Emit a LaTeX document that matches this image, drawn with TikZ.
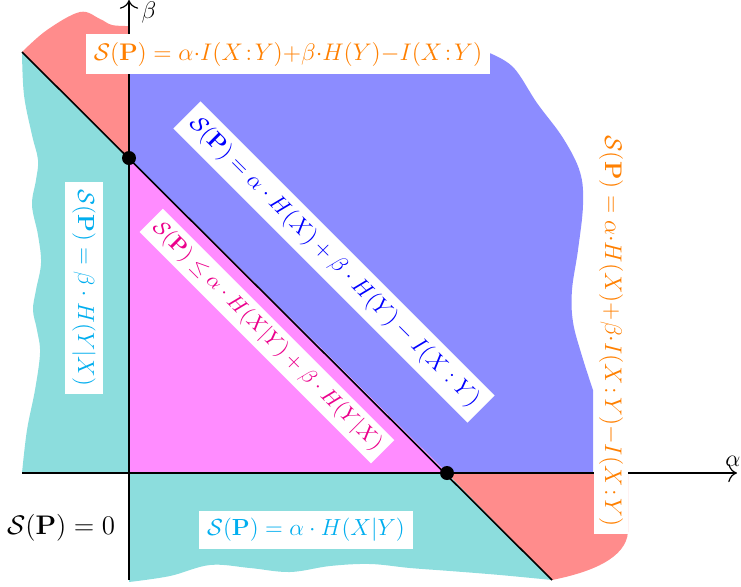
\documentclass[tikz,border=0pt]{standalone}
\usetikzlibrary{arrows.meta}
\definecolor{cR}{RGB}{255,140,140}
\definecolor{cB}{RGB}{140,140,255}
\definecolor{cM}{RGB}{255,140,255}
\definecolor{cT}{RGB}{140,221,221}
\definecolor{tOr}{RGB}{255,128,0}
\definecolor{tCy}{RGB}{0,174,239}
\definecolor{tMa}{RGB}{236,0,140}
\definecolor{tBl}{RGB}{0,0,255}
\newcommand{\cln}{\mkern2mu{:}\mkern2mu}
\begin{document}
\begin{tikzpicture}[x=0.5pt,y=-0.5pt,
  lbl/.style={fill=white, inner sep=4pt, font=\fontsize{12}{14}\selectfont},
  dot/.style={circle, fill=black, inner sep=0pt, minimum size=7pt},
  axis/.style={line width=0.6pt, -{To[scale=1.5]}},
  diag/.style={line width=0.8pt}]
\useasboundingbox (0,0) rectangle (741,586);
\coordinate (dA) at (22,52);
\coordinate (dB) at (552,580);
\coordinate (xL) at (22,473);
\coordinate (xR) at (737,473);
\coordinate (yB) at (129,580);
\coordinate (yT) at (129,0);
% regions
\fill[cT] (22,52) -- (129,158) -- (129,473) -- (22,473) -- plot[smooth, tension=0.6] coordinates {(22,473) (27,430) (35,390) (40,353) (37,330) (33,310) (36,290) (41,263) (38,235) (32,205) (36,180) (38,160) (32,135) (24,95) (22,52)} -- cycle;
\fill[cT] (129,473) -- (447,473) -- (552,580) -- plot[smooth, tension=0.6] coordinates {(552,580) (500,575) (450,571) (410,568) (370,564) (330,566) (290,572) (250,568) (210,565) (170,576) (129,582)} -- cycle;
\fill[cB] (129,158) -- (129,52) -- (487,52) -- plot[smooth, tension=0.6] coordinates {(487,52) (513,67) (537,103) (563,138) (580,172) (583,205) (578,250) (572,290) (573,322) (582,356) (593,390)} -- (593,473) -- (447,473) -- cycle;
\fill[cR] (22,52) -- plot[smooth, tension=0.6] coordinates {(22,52) (47,30) (80,12) (100,19) (112,25) (129,26)} -- (129,158) -- cycle;
\fill[cR] (447,473) -- (628,473) -- (628,532) .. controls (626,558) and (592,572) .. (552,580) -- cycle;
\fill[cM] (129,158) -- (129,473) -- (447,473) -- cycle;
% axes and diagonal
\draw[axis] (xL) -- (xR);
\draw[axis] (yB) -- (yT);
\draw[diag] (dA) -- (dB);
\node[dot] (p1) at (129,158) {};
\node[dot] (p2) at (447,473) {};
% labels
\node[lbl, text=tOr] (lTop) at (288,54) {$\mathcal{S}(\mathbf{P}) = \alpha{\cdot}I(X\cln Y){+}\beta{\cdot}H(Y){-}I(X\cln Y)$};
\node[lbl, text=tOr, rotate=-90, inner ysep=2.5pt] (lRight) at (611,331) {$\mathcal{S}(\mathbf{P}) = \alpha{\cdot}H(X){+}\beta{\cdot}I(X\cln Y){-}I(X\cln Y)$};
\node[lbl, text=tBl, rotate=-45, scale=0.96] (lBlue) at (334,262) {$\mathcal{S}(\mathbf{P}) = \alpha\cdot H(X)+\beta\cdot H(Y)-I(X:Y)$};
\node[lbl, text=tMa, rotate=-45, font=\fontsize{10.95}{13}\selectfont, inner xsep=3pt, inner ysep=3pt, scale=0.97] (lMag) at (267,336) {$\mathcal{S}(\mathbf{P})\leq\alpha\cdot H(X|Y)+\beta\cdot H(Y|X)$};
\node[lbl, text=tCy, rotate=-90, scale=0.97] (lLeft) at (84,288) {$\mathcal{S}(\mathbf{P}) = \beta\cdot H(Y|X)$};
\node[lbl, text=tCy, scale=0.97] (lBot) at (306,530) {$\mathcal{S}(\mathbf{P}) = \alpha\cdot H(X|Y)$};
\node[font=\fontsize{12}{14}\selectfont, scale=1.12] (lZero) at (61,528) {$\mathcal{S}(\mathbf{P}) = 0$};
\node[font=\fontsize{12}{14}\selectfont] (la) at (733,461) {$\alpha$};
\node[font=\fontsize{12}{14}\selectfont] (lb) at (149,12) {$\beta$};
\end{tikzpicture}
\end{document}
